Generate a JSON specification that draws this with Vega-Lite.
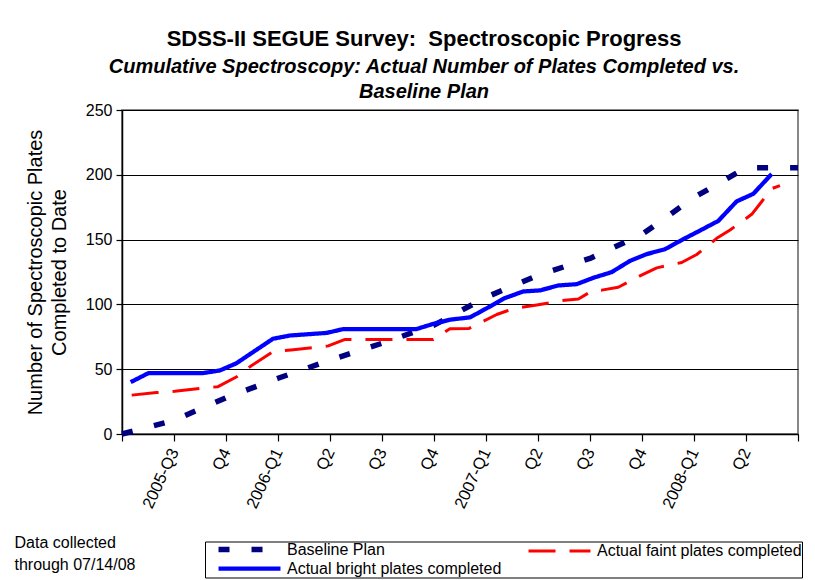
{
  "$schema": "https://vega.github.io/schema/vega-lite/v6.json",
  "width": 676,
  "height": 324,
  "autosize": {"type": "none"},
  "padding": {"left": 122, "top": 110, "right": 17, "bottom": 146},
  "background": "white",
  "title": {
    "text": "SDSS-II SEGUE Survey:\u00a0 Spectroscopic Progress",
    "subtitle": ["Cumulative Spectroscopy: Actual Number of Plates Completed vs.", "Baseline Plan"],
    "anchor": "middle",
    "dx": -36,
    "dy": 13,
    "offset": 12,
    "font": "Liberation Sans",
    "fontSize": 22,
    "fontWeight": "bold",
    "color": "black",
    "subtitleFont": "Liberation Sans",
    "subtitleFontSize": 20,
    "subtitleFontWeight": "bold",
    "subtitleFontStyle": "italic",
    "subtitleColor": "black",
    "subtitleLineHeight": 25,
    "subtitlePadding": 6
  },
  "data": {
    "values": [
      {"series": "Baseline Plan", "month": 0, "plates": 0},
      {"series": "Baseline Plan", "month": 3, "plates": 10.5},
      {"series": "Baseline Plan", "month": 6, "plates": 28},
      {"series": "Baseline Plan", "month": 9, "plates": 43},
      {"series": "Baseline Plan", "month": 12, "plates": 57},
      {"series": "Baseline Plan", "month": 15, "plates": 70},
      {"series": "Baseline Plan", "month": 18, "plates": 84},
      {"series": "Baseline Plan", "month": 21, "plates": 105.5},
      {"series": "Baseline Plan", "month": 24, "plates": 122.5},
      {"series": "Baseline Plan", "month": 27, "plates": 135.5},
      {"series": "Baseline Plan", "month": 30, "plates": 154},
      {"series": "Baseline Plan", "month": 33, "plates": 182.5},
      {"series": "Baseline Plan", "month": 36, "plates": 205.5},
      {"series": "Baseline Plan", "month": 39, "plates": 205.5},

      {"series": "Actual faint plates completed", "month": 0.56, "plates": 30},
      {"series": "Actual faint plates completed", "month": 2.0, "plates": 32},
      {"series": "Actual faint plates completed", "month": 3.04, "plates": 33},
      {"series": "Actual faint plates completed", "month": 4.48, "plates": 35.2},
      {"series": "Actual faint plates completed", "month": 5.54, "plates": 36.5},
      {"series": "Actual faint plates completed", "month": 6.62, "plates": 44.2},
      {"series": "Actual faint plates completed", "month": 7.46, "plates": 52.7},
      {"series": "Actual faint plates completed", "month": 8.71, "plates": 63.5},
      {"series": "Actual faint plates completed", "month": 9.75, "plates": 64.8},
      {"series": "Actual faint plates completed", "month": 11.9, "plates": 68},
      {"series": "Actual faint plates completed", "month": 12.87, "plates": 73},
      {"series": "Actual faint plates completed", "month": 17.96, "plates": 73},
      {"series": "Actual faint plates completed", "month": 18.92, "plates": 81.2},
      {"series": "Actual faint plates completed", "month": 20.02, "plates": 81.5},
      {"series": "Actual faint plates completed", "month": 21.62, "plates": 92.2},
      {"series": "Actual faint plates completed", "month": 22.19, "plates": 94.9},
      {"series": "Actual faint plates completed", "month": 22.96, "plates": 97.5},
      {"series": "Actual faint plates completed", "month": 23.93, "plates": 99.5},
      {"series": "Actual faint plates completed", "month": 25.37, "plates": 102.9},
      {"series": "Actual faint plates completed", "month": 26.33, "plates": 104.2},
      {"series": "Actual faint plates completed", "month": 27.19, "plates": 111},
      {"series": "Actual faint plates completed", "month": 27.67, "plates": 111},
      {"series": "Actual faint plates completed", "month": 28.63, "plates": 113.2},
      {"series": "Actual faint plates completed", "month": 29.88, "plates": 122},
      {"series": "Actual faint plates completed", "month": 30.85, "plates": 128.2},
      {"series": "Actual faint plates completed", "month": 32.29, "plates": 132.3},
      {"series": "Actual faint plates completed", "month": 33.16, "plates": 138.5},
      {"series": "Actual faint plates completed", "month": 34.31, "plates": 151},
      {"series": "Actual faint plates completed", "month": 35.08, "plates": 157.4},
      {"series": "Actual faint plates completed", "month": 36.33, "plates": 169.5},
      {"series": "Actual faint plates completed", "month": 36.9, "plates": 179.2},
      {"series": "Actual faint plates completed", "month": 37.48, "plates": 189.3},
      {"series": "Actual faint plates completed", "month": 37.96, "plates": 191.7},

      {"series": "Actual bright plates completed", "month": 0.5, "plates": 40},
      {"series": "Actual bright plates completed", "month": 1.53, "plates": 47},
      {"series": "Actual bright plates completed", "month": 4.67, "plates": 47},
      {"series": "Actual bright plates completed", "month": 5.64, "plates": 49},
      {"series": "Actual bright plates completed", "month": 6.59, "plates": 54.5},
      {"series": "Actual bright plates completed", "month": 8.71, "plates": 73.5},
      {"series": "Actual bright plates completed", "month": 9.69, "plates": 76},
      {"series": "Actual bright plates completed", "month": 11.81, "plates": 78},
      {"series": "Actual bright plates completed", "month": 12.77, "plates": 81},
      {"series": "Actual bright plates completed", "month": 17.0, "plates": 81},
      {"series": "Actual bright plates completed", "month": 17.96, "plates": 85},
      {"series": "Actual bright plates completed", "month": 18.92, "plates": 88.2},
      {"series": "Actual bright plates completed", "month": 20.08, "plates": 90},
      {"series": "Actual bright plates completed", "month": 21.04, "plates": 97},
      {"series": "Actual bright plates completed", "month": 22.06, "plates": 104.7},
      {"series": "Actual bright plates completed", "month": 23.15, "plates": 110},
      {"series": "Actual bright plates completed", "month": 24.12, "plates": 110.8},
      {"series": "Actual bright plates completed", "month": 25.17, "plates": 114.6},
      {"series": "Actual bright plates completed", "month": 26.23, "plates": 115.6},
      {"series": "Actual bright plates completed", "month": 27.19, "plates": 120.5},
      {"series": "Actual bright plates completed", "month": 28.25, "plates": 124.9},
      {"series": "Actual bright plates completed", "month": 29.31, "plates": 133.6},
      {"series": "Actual bright plates completed", "month": 30.27, "plates": 138.8},
      {"series": "Actual bright plates completed", "month": 31.33, "plates": 142.6},
      {"series": "Actual bright plates completed", "month": 32.38, "plates": 150.3},
      {"series": "Actual bright plates completed", "month": 33.35, "plates": 157},
      {"series": "Actual bright plates completed", "month": 34.4, "plates": 164.4},
      {"series": "Actual bright plates completed", "month": 35.46, "plates": 179.5},
      {"series": "Actual bright plates completed", "month": 36.42, "plates": 185.3},
      {"series": "Actual bright plates completed", "month": 37.48, "plates": 200.6}
    ]
  },
  "mark": {"type": "line", "strokeCap": "butt", "strokeJoin": "round"},
  "encoding": {
    "x": {
      "field": "month",
      "type": "quantitative",
      "scale": {"domain": [0, 39], "nice": false, "zero": false},
      "axis": {
        "values": [0, 3, 6, 9, 12, 15, 18, 21, 24, 27, 30, 33, 36, 39],
        "labelExpr": "['', '2005-Q3', 'Q4', '2006-Q1', 'Q2', 'Q3', 'Q4', '2007-Q1', 'Q2', 'Q3', 'Q4', '2008-Q1', 'Q2', ''][round(datum.value / 3)]",
        "labelAngle": -65,
        "labelFontSize": 16.5,
        "labelPadding": 8,
        "labelFlush": false,
        "labelOverlap": false,
        "tickSize": 7,
        "grid": false,
        "title": ["Data collected", "through 07/14/08"],
        "titleX": -108,
        "titleY": 100,
        "titleAlign": "left",
        "titleBaseline": "top",
        "titleAngle": 0,
        "titleFontSize": 16,
        "titleFontWeight": "normal",
        "titleLineHeight": 22
      }
    },
    "y": {
      "field": "plates",
      "type": "quantitative",
      "scale": {"domain": [0, 250], "nice": false},
      "axis": {
        "values": [0, 50, 100, 150, 200, 250],
        "grid": true,
        "gridColor": "black",
        "gridOpacity": 1,
        "tickSize": 6,
        "labelFontSize": 16,
        "labelPadding": 4,
        "title": ["Number of Spectroscopic Plates", "Completed to Date"],
        "titleFontSize": 20,
        "titleFontWeight": "normal",
        "titleLineHeight": 24,
        "titlePadding": 16
      }
    },
    "color": {
      "field": "series",
      "type": "nominal",
      "scale": {
        "domain": ["Baseline Plan", "Actual bright plates completed", "Actual faint plates completed"],
        "range": ["#000080", "#0000FF", "#FF0000"]
      },
      "legend": {"title": null}
    },
    "strokeDash": {
      "field": "series",
      "type": "nominal",
      "scale": {
        "domain": ["Baseline Plan", "Actual bright plates completed", "Actual faint plates completed"],
        "range": [[11, 22], [1, 0], [27, 14]]
      },
      "legend": {"title": null}
    },
    "strokeWidth": {
      "field": "series",
      "type": "nominal",
      "scale": {
        "domain": ["Baseline Plan", "Actual bright plates completed", "Actual faint plates completed"],
        "range": [5.5, 3, 3.5]
      },
      "legend": {"title": null}
    }
  },
  "config": {
    "font": "Liberation Sans",
    "view": {"stroke": "#606060", "strokeWidth": 1.5},
    "axis": {
      "domainColor": "black",
      "domainWidth": 1.5,
      "tickColor": "black",
      "tickWidth": 1.2,
      "labelColor": "black",
      "titleColor": "black",
      "labelFont": "Liberation Sans",
      "titleFont": "Liberation Sans"
    },
    "legend": {
      "orient": "none",
      "legendX": 83,
      "legendY": 431.5,
      "direction": "vertical",
      "columns": 2,
      "columnPadding": 13,
      "rowPadding": -1,
      "padding": 0,
      "symbolOffset": 36.5,
      "symbolSize": 60,
      "symbolType": "M-8,0H8",
      "labelFontSize": 16,
      "labelColor": "black",
      "labelFont": "Liberation Sans",
      "labelOffset": 29.5,
      "labelLimit": 400,
      "strokeColor": "black",
      "fillColor": "white"
    }
  }
}
